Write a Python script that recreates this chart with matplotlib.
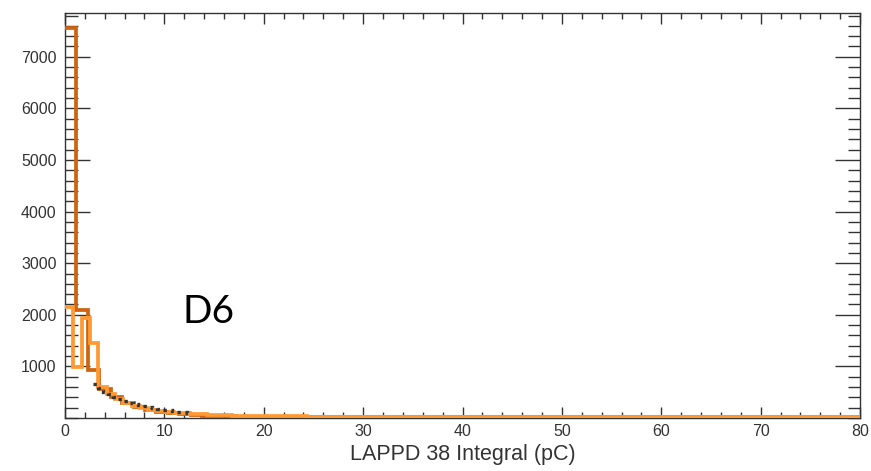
import numpy as np
import matplotlib
matplotlib.use('Agg')
import matplotlib.pyplot as plt
from matplotlib.ticker import MultipleLocator

# charge spectra, counts per bin
dark_width = 1.15
dark_counts = [7550, 2100, 930, 560, 400, 290, 210, 150, 115, 90,
               72, 58, 48, 40, 34, 29, 25, 22, 19, 17,
               15, 14, 13, 12, 12, 11, 11, 10, 10, 10,
               10, 10, 10, 10, 10, 10, 10, 10, 10, 10,
               10, 10, 10, 10, 10, 10, 10, 10, 10, 10,
               10, 10, 10, 10, 10, 10, 10, 10, 10, 10,
               10, 10, 10, 10, 10, 10, 10, 10, 10, 10]

light_width = 0.84
light_counts = [2150, 980, 1940, 1460, 610, 470, 370, 290, 235, 190,
                160, 135, 115, 100, 88, 78, 70, 63, 57, 52,
                48, 44, 41, 38, 36, 34, 32, 31, 30, 29,
                28, 28, 27, 27, 26, 26, 26, 25, 25, 25,
                25, 25, 24, 24, 24, 24, 24, 24, 24, 24,
                23, 23, 23, 23, 23, 23, 23, 23, 23, 23,
                23, 23, 23, 23, 23, 23, 23, 23, 23, 23,
                23, 23, 23, 23, 23, 23, 23, 23, 23, 23,
                23, 23, 23, 23, 23, 23, 23, 23, 23, 23,
                23, 23, 23, 23, 23, 23]

dot_start = 2.8
dot_width = 0.5
dot_counts = [650, 580, 510, 460, 410, 370, 330, 300, 270, 245,
              225, 205, 190, 175, 160, 150, 135, 120, 110, 100]

dark_edges = np.arange(len(dark_counts) + 1) * dark_width
light_edges = np.arange(len(light_counts) + 1) * light_width
dot_edges = dot_start + np.arange(len(dot_counts) + 1) * dot_width

fig = plt.figure(figsize=(8.71, 4.71), dpi=100)
ax = fig.add_axes([0.0746, 0.1125, 0.9128, 0.86])

ax.stairs(dark_counts, dark_edges, baseline=None, color='#cc6410', lw=2.7, zorder=3)
ax.stairs(light_counts, light_edges, baseline=None, color='#ff9933', lw=2.7, zorder=3)
ax.stairs(dot_counts, dot_edges, baseline=None, color='#333333', lw=2.4,
          linestyle=(0, (1, 1.4)), zorder=4)

ax.set_xlim(0, 80)
ax.set_ylim(0, 7850)

ax.xaxis.set_major_locator(MultipleLocator(10))
ax.xaxis.set_minor_locator(MultipleLocator(2))
ax.yaxis.set_major_locator(MultipleLocator(1000))
ax.yaxis.set_minor_locator(MultipleLocator(200))
ax.set_yticks([1000, 2000, 3000, 4000, 5000, 6000, 7000])

ax.tick_params(axis='both', which='both', direction='in', top=True, right=True,
               color='#333333', width=1, labelcolor='#333333')
ax.tick_params(axis='x', which='major', length=8, labelsize=11.5, pad=4)
ax.tick_params(axis='x', which='minor', length=4)
ax.tick_params(axis='y', which='major', length=18, labelsize=11.5, pad=6)
ax.tick_params(axis='y', which='minor', length=9)
for lab in ax.get_xticklabels() + ax.get_yticklabels():
    lab.set_family('Liberation Sans')
for sp in ax.spines.values():
    sp.set_color('#333333')
    sp.set_linewidth(1)

ax.set_xlabel('LAPPD 38 Integral (pC)', family='Liberation Sans', fontsize=15.5,
              color='#333333', labelpad=4)

fig.text(0.210, 0.338, 'D6', family='Lato', fontsize=28, va='center', ha='left')

fig.savefig('out.png', dpi=100)
